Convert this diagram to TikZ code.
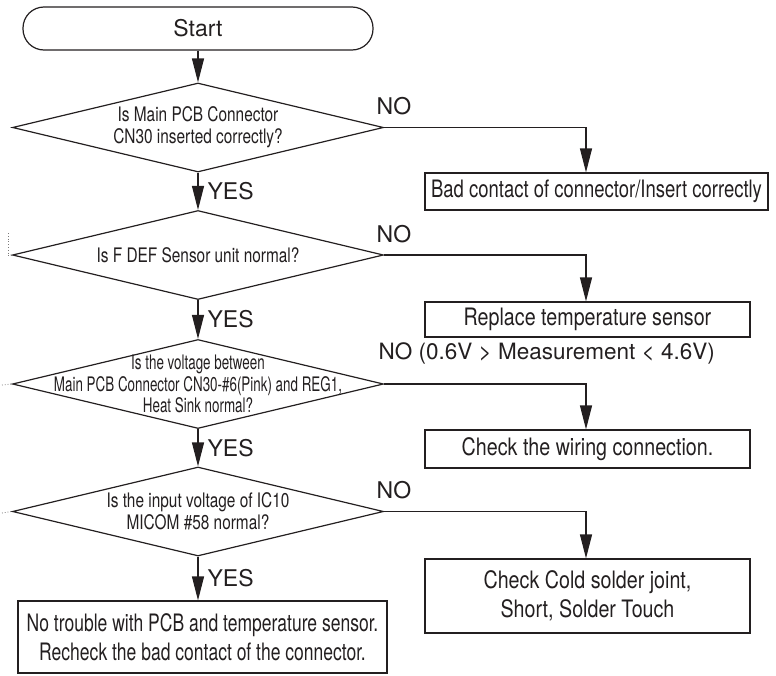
\documentclass[tikz,border=0pt]{standalone}
\usepackage{fontspec}
\setmainfont{TeX Gyre Heros}
\newfontfamily\narrowfont[FakeStretch=0.77]{TeX Gyre Heros}
\newfontfamily\tightfont[FakeStretch=0.67]{TeX Gyre Heros}
\newfontfamily\slimfont[FakeStretch=0.73]{TeX Gyre Heros}
\newfontfamily\boxfont[FakeStretch=0.82]{TeX Gyre Heros}
\newcommand\asksize{\fontsize{20}{21.7}\selectfont}
\newcommand\boxsize{\fontsize{24}{29.5}\selectfont}
\usetikzlibrary{arrows.meta,calc,shapes.geometric}
\definecolor{ink}{RGB}{35,31,32}

\begin{document}
\begin{tikzpicture}[
    x=1pt, y=-1pt, line width=1.2pt, color=ink,
    term/.style={draw, rounded corners=21pt, minimum width=350pt,
                 minimum height=43pt, inner sep=0pt,
                 font=\fontsize{23}{25}\selectfont},
    ask/.style={draw, diamond, minimum width=371pt, minimum height=89pt,
                inner sep=0pt},
    asktext/.style={font=\narrowfont\asksize, align=center, inner sep=0pt},
    box/.style={draw, font=\boxfont\boxsize, align=center, inner sep=0pt},
    yes/.style={midway, right, inner sep=0pt, xshift=9pt,
                font=\fontsize{23}{25}\selectfont},
    no/.style={anchor=base west, inner sep=0pt,
               font=\fontsize{23}{25}\selectfont},
    arr/.style={-{Triangle[length=24pt, width=12pt]}},
    cut/.style={dotted, line width=0.8pt, ink!60}
]
\useasboundingbox (0,0) rectangle (776,675);

\node[term] (start) at (198,28.5) {Start};

\node[ask] (d1) at (198,127.5) {};
\node[asktext] (q1) at (d1) {Is Main PCB Connector\\CN30 inserted correctly?};
\node[ask] (d2) at (198,255) {};
\node[asktext] (q2) at (d2) {Is F DEF Sensor unit normal?};
\node[ask] (d3) at (198,384) {};
\node[asktext, font=\tightfont\asksize] (q3) at (d3)
    {Is the voltage between\\Main PCB Connector CN30-\#6(Pink) and REG1,\\Heat Sink normal?};
\node[ask] (d4) at (198,511.5) {};
\node[asktext] (q4) at (d4) {Is the input voltage of IC10\\MICOM \#58 normal?};

\node[box, font=\narrowfont\boxsize, minimum width=343pt, minimum height=37pt]
    (b1) at (596.5,191.5) {Bad contact of connector/Insert correctly};
\node[box, minimum width=325pt, minimum height=35pt] (b2) at (587.5,319.5)
    {Replace temperature sensor};
\node[box, minimum width=325pt, minimum height=38pt] (b3) at (587.5,449)
    {Check the wiring connection.};
\node[box, minimum width=325pt, minimum height=74pt] (b4) at (587.5,596)
    {Check Cold solder joint,\\Short, Solder Touch};
\node[box, font=\slimfont\boxsize, minimum width=369pt, minimum height=72pt]
    (b5) at (202.5,637)
    {No trouble with PCB and temperature sensor.\\Recheck the bad contact of the connector.};

% YES branch
\draw[arr] (start) -- (d1);
\draw[arr] (d1) -- node[yes] {YES} (d2);
\draw[arr] (d2) -- node[yes] {YES} (d3);
\draw[arr] (d3) -- node[yes] {YES} (d4);
\draw[arr] (d4.south) -- node[yes] {YES} (d4.south |- b5.north);

% NO branch
\coordinate (col) at (586,0);
\draw[arr] (d1.east) -| (col |- b1.north);
\draw[arr] (d2.east) -| (col |- b2.north);
\draw[arr] (d3.east) -| (col |- b3.north);
\draw[arr] (d4.east) -| (col |- b4.north);
\node[no] (n1) at ($(d1.east)+(-8,-13)$) {NO};
\node[no] (n2) at ($(d2.east)+(-8,-13)$) {NO};
\node[no, font=\fontsize{22.5}{25}\selectfont] (n3) at ($(d3.east)+(-6,-25)$)
    {NO (0.6V > Measurement < 4.6V)};
\node[no] (n4) at ($(d4.east)+(-8,-13)$) {NO};

% cut marks at the left edge
\coordinate (cut2) at (8,233);
\coordinate (cut3) at (2,385);
\coordinate (cut4) at (2,513);
\draw[cut] (cut2) -- (cut2 |- d2.west) -- (d2.west);
\draw[cut] (cut3) -- (d3.west);
\draw[cut] (cut4) -- (d4.west);
\end{tikzpicture}
\end{document}
